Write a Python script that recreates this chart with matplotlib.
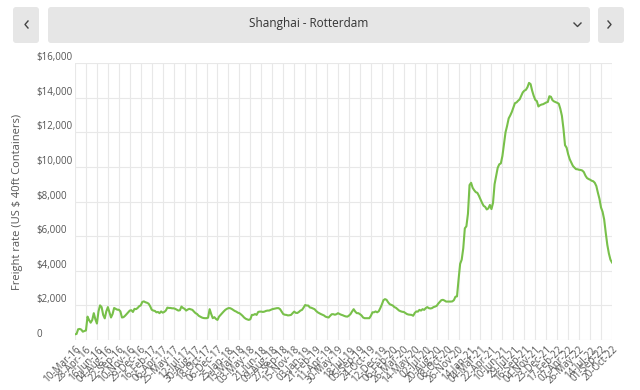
import matplotlib
matplotlib.use("Agg")
import matplotlib.pyplot as plt
from matplotlib.patches import FancyBboxPatch
from matplotlib.lines import Line2D

plt.rcParams['font.family'] = ['Open Sans', 'DejaVu Sans']

# weekly freight rate, Shanghai - Rotterdam (USD per 40ft)
rate = [
    330, 350, 620, 640, 600, 480, 520,
    550, 1350, 1150, 1000, 1150, 1550, 1200,
    950, 1650, 2000, 1900, 1450, 1250, 1650,
    1900, 1600, 1300, 1500, 1850, 1800, 1750,
    1750, 1650, 1300, 1320, 1400, 1500, 1600,
    1700, 1720, 1620, 1800, 1780, 1850, 1950,
    2000, 2200, 2230, 2180, 2150, 2100, 1950,
    1750, 1700, 1680, 1600, 1620, 1550, 1650,
    1580, 1620, 1700, 1870, 1850, 1850, 1830,
    1830, 1800, 1750, 1700, 1720, 1930, 1850,
    1800, 1700, 1760, 1800, 1770, 1740, 1640,
    1550, 1500, 1400, 1350, 1300, 1270, 1260,
    1260, 1290, 1780, 1500, 1260, 1320, 1220,
    1160, 1350, 1450, 1550, 1650, 1740, 1800,
    1840, 1840, 1800, 1740, 1680, 1640, 1580,
    1550, 1480, 1400, 1300, 1230, 1190, 1160,
    1200, 1450, 1450, 1500, 1450, 1620, 1640,
    1640, 1620, 1640, 1680, 1700, 1700, 1740,
    1780, 1800, 1820, 1840, 1840, 1780, 1640,
    1500, 1460, 1450, 1420, 1430, 1450, 1550,
    1640, 1570, 1560, 1620, 1700, 1740, 1870,
    2020, 1990, 1990, 1880, 1860, 1820, 1780,
    1680, 1600, 1550, 1500, 1460, 1420, 1350,
    1320, 1300, 1400, 1490, 1490, 1460, 1490,
    1550, 1500, 1460, 1430, 1390, 1360, 1350,
    1410, 1500, 1650, 1780, 1640, 1550, 1550,
    1490, 1420, 1300, 1260, 1260, 1260, 1260,
    1400, 1600, 1600, 1650, 1600, 1660, 1840,
    2050, 2300, 2360, 2320, 2180, 2070, 2030,
    1990, 1900, 1860, 1780, 1700, 1660, 1630,
    1620, 1560, 1500, 1470, 1460, 1450, 1400,
    1560, 1650, 1640, 1740, 1700, 1780, 1740,
    1840, 1900, 1840, 1820, 1840, 1900, 1930,
    1970, 2100, 2200, 2300, 2320, 2280, 2220,
    2220, 2220, 2220, 2230, 2300, 2500, 2520,
    3500, 4400, 4640, 5300, 6450, 6570, 7300,
    8950, 9080, 8790, 8650, 8540, 8500, 8330,
    8120, 7920, 7750, 7690, 7540, 7600, 7800,
    7560, 7920, 9000, 9470, 9950, 10150, 10200,
    10630, 11300, 12000, 12370, 12800, 12970, 13170,
    13430, 13680, 13720, 13820, 13900, 14100, 14300,
    14400, 14450, 14600, 14850, 14780, 14400, 14100,
    13870, 13800, 13490, 13560, 13600, 13620, 13670,
    13720, 13750, 14080, 14050, 13850, 13780, 13740,
    13700, 13650, 13350, 12950, 12200, 11250, 11110,
    10730, 10440, 10250, 10060, 9960, 9870, 9860,
    9830, 9820, 9790, 9700, 9500, 9360, 9300,
    9260, 9200, 9170, 9080, 8890, 8500, 8150,
    7650, 7400, 6960, 6200, 5500, 5000, 4640,
    4480,
]

# one label every 7th week
date_labels = [
    '10-Mar-16', '28-Apr-16', '16-Jun-16', '04-Aug-16', '22-Sep-16', '10-Nov-16', '29-Dec-16',
    '16-Feb-17', '06-Apr-17', '25-May-17', '12-Jul-17', '30-Aug-17', '18-Oct-17', '06-Dec-17',
    '25-Jan-18', '15-Mar-18', '03-May-18', '21-Jun-18', '09-Aug-18', '27-Sep-18', '15-Nov-18',
    '03-Jan-19', '21-Feb-19', '11-Apr-19', '30-May-19', '18-Jul-19', '05-Sep-19', '24-Oct-19',
    '12-Dec-19', '06-Feb-20', '26-Mar-20', '14-May-20', '02-Jul-20', '20-Aug-20', '08-Oct-20',
    '26-Nov-20', '14-Jan-21', '04-Mar-21', '22-Apr-21', '10-Jun-21', '29-Jul-21', '16-Sep-21',
    '04-Nov-21', '23-Dec-21', '17-Feb-22', '07-Apr-22', '26-May-22', '14-Jul-22', '01-Sep-22',
    '20-Oct-22',
]

yticks = [0, 2000, 4000, 6000, 8000, 10000, 12000, 14000, 16000]
ytick_labels = ['0'] + ['$%s' % format(v, ',') for v in yticks[1:]]

W, H = 640, 390
fig = plt.figure(figsize=(W / 100, H / 100), dpi=100)
ax = fig.add_axes([75 / W, 1 - 340 / H, 537 / W, 277 / H])

xs = list(range(len(rate)))
ax.plot(xs, rate, color='#78c04a', lw=1.5, solid_joinstyle='round')

ax.set_xlim(0, len(rate) - 1)
ax.set_ylim(0, 16000)
ax.set_xticks(xs[::7])
ax.set_xticklabels(date_labels, rotation=45, ha='right', rotation_mode='anchor',
                   fontsize=7.1, color='#555555')
ax.set_yticks(yticks)
ax.set_yticklabels(ytick_labels, fontsize=7.0, color='#555555', ha='left', va='bottom')
ax.tick_params(axis='y', length=0, pad=28)
ax.tick_params(axis='x', length=0, pad=3)
ax.grid(True, color='#e8e8e8', lw=0.8)
ax.set_axisbelow(True)
for s in ax.spines.values():
    s.set_visible(False)
ax.set_ylabel(r'Freight rate (US \$ 40ft Containers)', fontsize=8, color='#555555', labelpad=6)
ax.yaxis.set_label_coords(-52 / 537, 0.5)

# selector bar at the top
def px_box(x0, x1, y0, y1):
    p = FancyBboxPatch((x0 / 100, (H - y1) / 100), (x1 - x0) / 100, (y1 - y0) / 100,
                       boxstyle='round,pad=0,rounding_size=0.03',
                       transform=fig.dpi_scale_trans, fc='#e6e6e6', ec='none')
    fig.patches.append(p)

px_box(13, 39, 7, 43)
px_box(48, 590, 7, 43)
px_box(598, 624, 7, 43)
fig.text(309 / W, 1 - 24 / H, 'Shanghai - Rotterdam', ha='center', va='center',
         fontsize=8.5, color='#333333')

def chevron(pts):
    xs_ = [p[0] / W for p in pts]
    ys_ = [1 - p[1] / H for p in pts]
    fig.add_artist(Line2D(xs_, ys_, transform=fig.transFigure, color='#444444', lw=1.0))

chevron([(28, 21), (25, 24.5), (28, 28)])
chevron([(608, 21), (611, 24.5), (608, 28)])
chevron([(574, 23), (577.5, 26.5), (581, 23)])

fig.savefig('out.png', dpi=100)
